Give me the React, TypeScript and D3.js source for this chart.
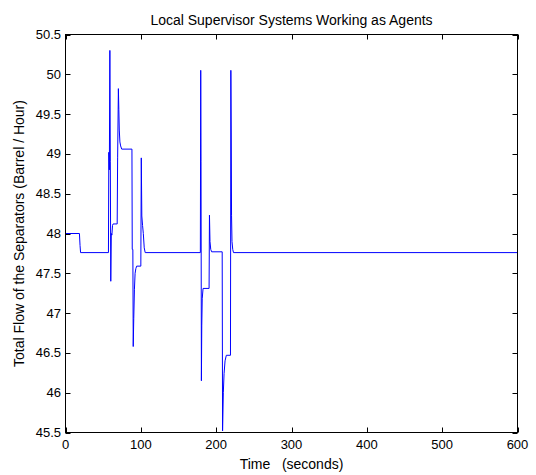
import React from 'react';
import * as d3 from 'd3';

const times: number[] = [
  0, 18.5, 19.3, 20, 57, 57.5, 58.2, 58.9, 59.5, 60.1, 60.8, 61.6, 62.4, 63.2, 68.6,
  69.2, 70.2, 70.8, 71.4, 72.2, 73.2, 74.6, 88.2, 88.6, 89.4, 89.9, 90.6, 91.5, 92.4,
  93.4, 94.5, 100.0, 100.6, 101.3, 102.3, 103.3, 104.5, 105.8, 179.0, 179.5, 179.9,
  180.4, 180.9, 181.5, 182.6, 190.6, 191.1, 191.8, 192.8, 194.0, 208.0, 208.5, 209.5,
  210.5, 211.8, 213.5, 219.0, 219.5, 220.0, 220.4, 221.0, 222.0, 223.0, 600,
];
const flow: number[] = [
  48.0, 48.0, 47.85, 47.76, 47.76, 49.02, 48.8, 50.3, 48.9, 47.4, 48.0, 47.98, 48.1, 48.12, 48.12,
  48.95, 49.82, 49.56, 49.3, 49.15, 49.1, 49.06, 49.06, 47.8, 47.8, 46.58, 46.93, 47.3, 47.5,
  47.56, 47.59, 47.59, 48.95, 48.22, 48.1, 48.0, 47.82, 47.76, 47.76, 50.05, 48.9,
  46.15, 46.84, 47.18, 47.31, 47.31, 48.23, 47.9, 47.8, 47.77, 47.77, 45.52, 46.0,
  46.24, 46.4, 46.47, 46.47, 50.05, 49.25, 48.23, 47.9, 47.8, 47.76, 47.76,
];
const xTicks: number[] = [0, 100, 200, 300, 400, 500, 600];
const yTicks: number[] = [45.5, 46, 46.5, 47, 47.5, 48, 48.5, 49, 49.5, 50, 50.5];
const titleText = 'Local Supervisor Systems Working as Agents';
const xLabelText = 'Time   (seconds)';
const yLabelText = 'Total Flow of the Separators (Barrel / Hour)';

export default function App() {
  const W = 536;
  const H = 475;
  const L = 65.5, R = 517.5, T = 34.5, B = 432.5;
  const x = d3.scaleLinear().domain([0, 600]).range([L, R]);
  const y = d3.scaleLinear().domain([45.5, 50.5]).range([B, T]);
  const line = d3
    .line<number>()
    .x((_, i) => x(times[i]))
    .y((d) => y(d));
  const tick = 5;
  const font = "'Liberation Sans', Arial, sans-serif";
  return (
    <div style={{ position: 'absolute', left: 0, top: 0 }}>
      <svg width={W} height={H} style={{ display: 'block', background: '#fff' }} fontFamily={font}>
        <rect x={0} y={0} width={W} height={H} fill="#fff" />
        <path d={line(flow) || ''} fill="none" stroke="#0000ff" strokeWidth={1} />
        <rect x={L} y={T} width={R - L} height={B - T} fill="none" stroke="#000" strokeWidth={1} />
        {xTicks.map((t) => (
          <g key={'x' + t}>
            <line x1={Math.round(x(t)) + 0.5} x2={Math.round(x(t)) + 0.5} y1={B} y2={B - tick} stroke="#000" />
            <line x1={Math.round(x(t)) + 0.5} x2={Math.round(x(t)) + 0.5} y1={T} y2={T + tick} stroke="#000" />
            <text x={x(t)} y={449} fontSize={13} textAnchor="middle" fill="#000">
              {String(t)}
            </text>
          </g>
        ))}
        {yTicks.map((v) => (
          <g key={'y' + v}>
            <line x1={L} x2={L + tick} y1={Math.round(y(v)) + 0.5} y2={Math.round(y(v)) + 0.5} stroke="#000" />
            <line x1={R} x2={R - tick} y1={Math.round(y(v)) + 0.5} y2={Math.round(y(v)) + 0.5} stroke="#000" />
            <text x={61} y={y(v)} dy="0.35em" fontSize={13} textAnchor="end" fill="#000">
              {String(v)}
            </text>
          </g>
        ))}
        <text x={(L + R) / 2} y={25} fontSize={14} textAnchor="middle" fill="#000">
          {titleText}
        </text>
        <text x={(L + R) / 2} y={469} fontSize={14} textAnchor="middle" fill="#000" style={{ whiteSpace: 'pre' }}>
          {xLabelText}
        </text>
        <text
          transform={`translate(24, ${(T + B) / 2}) rotate(-90)`}
          fontSize={14}
          textAnchor="middle"
          fill="#000"
        >
          {yLabelText}
        </text>
      </svg>
    </div>
  );
}
